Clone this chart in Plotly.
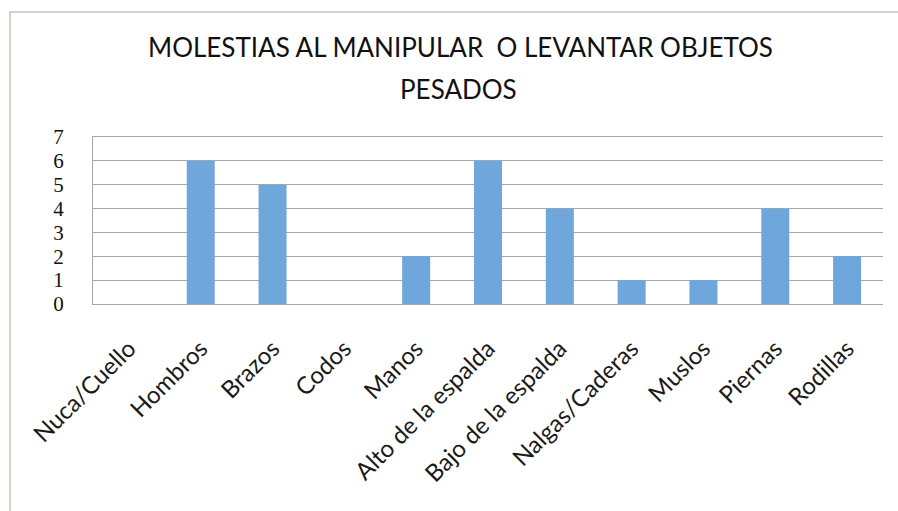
import plotly.graph_objects as go

categories = ["Nuca/Cuello", "Hombros", "Brazos", "Codos", "Manos",
              "Alto de la espalda", "Bajo de la espalda", "Nalgas/Caderas",
              "Muslos", "Piernas", "Rodillas"]
values = [0, 6, 5, 0, 2, 6, 4, 1, 1, 4, 2]
y_ticks = [0, 1, 2, 3, 4, 5, 6, 7]
title_lines = ["MOLESTIAS AL MANIPULAR  O LEVANTAR OBJETOS", "PESADOS"]

W, H = 898, 511
L, R, T, B = 93, 15, 137, 207
pw, ph = W - L - R, H - T - B

def px_x(x):
    return (x - L) / pw

def px_y(y):
    return (H - B - y) / ph

fig = go.Figure(go.Bar(
    x=categories, y=values,
    marker=dict(color="#6fa6db", line=dict(width=0)),
    width=0.39,
))

fig.update_layout(
    width=W, height=H,
    margin=dict(l=L, r=R, t=T, b=B),
    paper_bgcolor="white", plot_bgcolor="white",
    showlegend=False,
    xaxis=dict(
        tickangle=-45, tickfont=dict(family="Lato", size=24, color="#1a1a1a"),
        showgrid=False, showline=True, mirror=True,
        linecolor="#a8a8a8", linewidth=1, ticks="",
        ticklabelstandoff=20,
    ),
    yaxis=dict(
        range=[0, 7], tickvals=y_ticks, ticktext=[str(v) for v in y_ticks],
        tickfont=dict(family="Liberation Serif", size=21, color="#111111"),
        showgrid=True, gridcolor="#a8a8a8", gridwidth=1,
        showline=True, linecolor="#a8a8a8", linewidth=1,
        zeroline=True, zerolinecolor="#a8a8a8", zerolinewidth=1,
        ticklabelstandoff=24, ticks="",
    ),
    annotations=[
        dict(text=title_lines[0], xref="paper", yref="paper",
             x=px_x(460), y=px_y(47), xanchor="center", yanchor="middle",
             showarrow=False, font=dict(family="Lato", size=26, color="#111111")),
        dict(text=title_lines[1], xref="paper", yref="paper",
             x=px_x(458), y=px_y(89), xanchor="center", yanchor="middle",
             showarrow=False, font=dict(family="Lato", size=26, color="#111111")),
    ],
    shapes=[
        dict(type="rect", xref="paper", yref="paper",
             x0=px_x(10), x1=px_x(905), y0=px_y(520), y1=px_y(12),
             line=dict(color="#c4c4bc", width=1.5), layer="below"),
    ],
)

fig.write_html("out.html", config={"displayModeBar": False},
               post_script="document.body.style.margin='0';")
